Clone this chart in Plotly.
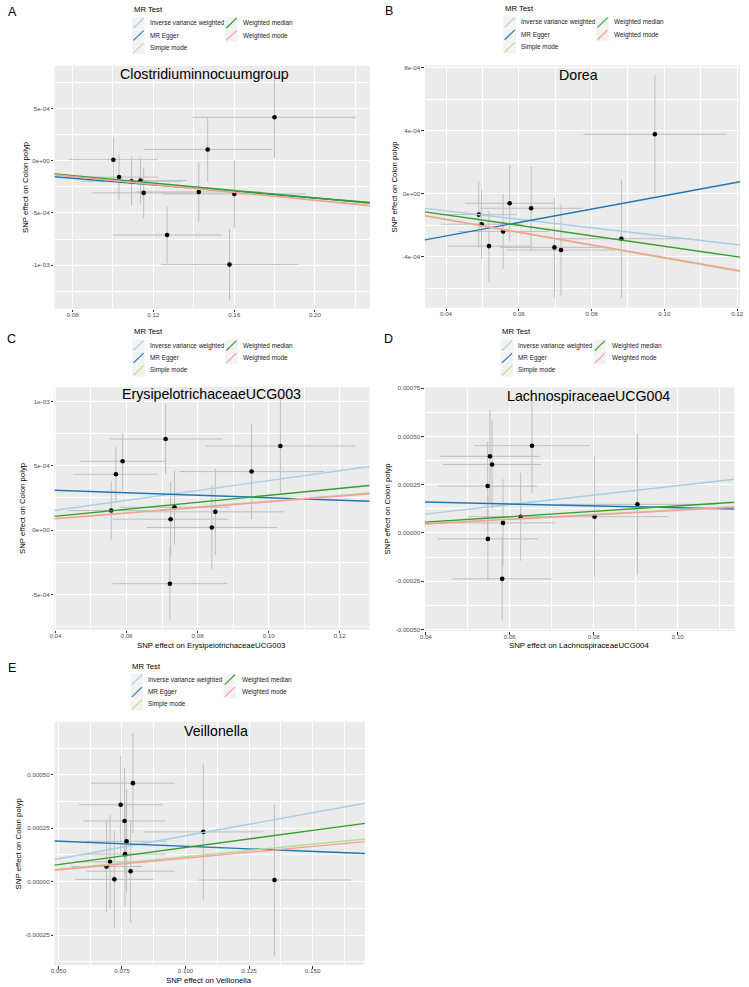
import plotly.graph_objects as go

W, H = 749, 987
FONT = "Liberation Sans, Arial, Helvetica, sans-serif"

# ---------------- data ----------------
methods = ["Inverse variance weighted", "MR Egger", "Simple mode", "Weighted median", "Weighted mode"]
method_colors = ["#a6cee3", "#1f78b4", "#b2df8a", "#33a02c", "#fb9a99"]

# Panel A
A_title = "Clostridiuminnocuumgroup"
A_bx = [0.1002, 0.1030, 0.1092, 0.1136, 0.1152, 0.1268, 0.1425, 0.1469, 0.1601, 0.1577, 0.1800]
A_by = [0.000010, -0.000157, -0.000196, -0.000190, -0.000308, -0.000712, -0.000299, 0.000108, -0.000318, -0.000995, 0.000416]
A_sex = [0.0220, 0.0196, 0.0250, 0.0230, 0.0253, 0.0270, 0.0310, 0.0318, 0.0355, 0.0340, 0.0404]
A_sey = [0.000215, 0.000219, 0.000234, 0.000222, 0.000243, 0.000270, 0.000283, 0.000310, 0.000326, 0.000340, 0.000394]
A_slope = [-1.80e-3, -1.58e-3, -1.88e-3, -1.78e-3, -1.90e-3]
A_icpt = [0.0, -4.1e-5, 0.0, 0.0, 0.0]
A_xtick = [0.08, 0.12, 0.16, 0.20]
A_xtext = ["0.08", "0.12", "0.16", "0.20"]
A_ytick = [5e-4, 0.0, -5e-4, -1e-3]
A_ytext = ["5e-04", "0e+00", "-5e-04", "-1e-03"]

# Panel B
B_title = "Dorea"
B_bx = [0.0490, 0.0498, 0.0518, 0.0557, 0.0575, 0.0634, 0.0698, 0.0716, 0.0882, 0.0974]
B_by = [-0.000131, -0.000192, -0.000331, -0.000238, -0.000059, -0.000091, -0.000339, -0.000356, -0.000284, 0.000379]
B_sex = [0.0106, 0.0112, 0.0114, 0.0125, 0.0123, 0.0141, 0.0149, 0.0149, 0.0190, 0.0196]
B_sey = [0.000214, 0.000221, 0.000226, 0.000240, 0.000242, 0.000265, 0.000316, 0.000288, 0.000374, 0.000373]
B_slope = [-2.68e-3, 4.26e-3, -4.08e-3, -3.32e-3, -4.03e-3]
B_icpt = [0.0, -4.37e-4, 0.0, 0.0, 0.0]
B_xtick = [0.04, 0.06, 0.08, 0.10, 0.12]
B_xtext = ["0.04", "0.06", "0.08", "0.10", "0.12"]
B_ytick = [8e-4, 4e-4, 0.0, -4e-4]
B_ytext = ["8e-04", "4e-04", "0e+00", "-4e-04"]

# Panel C
C_title = "ErysipelotrichaceaeUCG003"
C_xlab = "SNP effect on ErysipelotrichaceaeUCG003"
C_bx = [0.0557, 0.0570, 0.0589, 0.0710, 0.0735, 0.0724, 0.0722, 0.0840, 0.0850, 0.0952, 0.1033]
C_by = [0.000152, 0.000434, 0.000535, 0.000708, 0.000178, 0.000085, -0.000416, 0.000021, 0.000142, 0.000455, 0.000654]
C_sex = [0.0120, 0.0120, 0.0119, 0.0159, 0.0155, 0.0163, 0.0161, 0.0185, 0.0192, 0.0203, 0.0210]
C_sey = [0.000230, 0.000212, 0.000217, 0.000274, 0.000287, 0.000292, 0.000287, 0.000326, 0.000336, 0.000370, 0.000370]
C_slope = [3.85e-3, -9.6e-4, 2.25e-3, 2.70e-3, 2.20e-3]
C_icpt = [0.0, 3.48e-4, 0.0, 0.0, 0.0]
C_xtick = [0.04, 0.06, 0.08, 0.10, 0.12]
C_xtext = ["0.04", "0.06", "0.08", "0.10", "0.12"]
C_ytick = [1e-3, 5e-4, 0.0, -5e-4]
C_ytext = ["1e-03", "5e-04", "0e+00", "-5e-04"]

# Panel D
D_title = "LachnospiraceaeUCG004"
D_xlab = "SNP effect on LachnospiraceaeUCG004"
D_bx = [0.05475, 0.0553, 0.0558, 0.0653, 0.0548, 0.0584, 0.0582, 0.0626, 0.0802, 0.0904]
D_by = [0.000243, 0.000397, 0.000355, 0.000452, -0.000031, 0.000052, -0.000238, 0.000084, 0.000084, 0.000148]
D_sex = [0.0118, 0.0120, 0.0118, 0.0139, 0.0119, 0.0123, 0.0118, 0.0126, 0.0176, 0.0185]
D_sey = [0.000230, 0.000240, 0.000230, 0.000250, 0.000220, 0.000227, 0.000216, 0.000228, 0.000313, 0.000364]
D_slope = [2.45e-3, -4.9e-4, 1.20e-3, 1.40e-3, 1.17e-3]
D_icpt = [0.0, 1.795e-4, 0.0, 0.0, 0.0]
D_xtick = [0.04, 0.06, 0.08, 0.10]
D_xtext = ["0.04", "0.06", "0.08", "0.10"]
D_ytick = [7.5e-4, 5e-4, 2.5e-4, 0.0, -2.5e-4, -5e-4]
D_ytext = ["0.00075", "0.00050", "0.00025", "0.00000", "-0.00025", "-0.00050"]

# Panel E
E_title = "Veillonella"
E_xlab = "SNP effect on Veillonella"
E_bx = [0.0793, 0.0745, 0.0760, 0.0768, 0.0762, 0.0703, 0.0689, 0.0784, 0.0720, 0.1070, 0.1350]
E_by = [0.000461, 0.000360, 0.000284, 0.000189, 0.000129, 0.000093, 0.000071, 0.000049, 0.000011, 0.000233, 0.000008]
E_sex = [0.0165, 0.0164, 0.0162, 0.0158, 0.0160, 0.0140, 0.0140, 0.0174, 0.0154, 0.0236, 0.0300]
E_sey = [0.000233, 0.000228, 0.000247, 0.000240, 0.000240, 0.000220, 0.000213, 0.000240, 0.000227, 0.000320, 0.000353]
E_slope = [2.15e-3, -4.83e-4, 1.17e-3, 1.60e-3, 1.10e-3]
E_icpt = [0.0, 2.14e-4, 0.0, 0.0, 0.0]
E_xtick = [0.05, 0.075, 0.10, 0.125, 0.15]
E_xtext = ["0.050", "0.075", "0.100", "0.125", "0.150"]
E_ytick = [5e-4, 2.5e-4, 0.0, -2.5e-4]
E_ytext = ["0.00050", "0.00025", "0.00000", "-0.00025"]

ylab = "SNP effect on Colon polyp"
legend_title = "MR Test"

panels = [
    dict(letter="A", title=A_title, xlab=None, bx=A_bx, by=A_by, sex=A_sex, sey=A_sey,
         slope=A_slope, icpt=A_icpt, xt=A_xtick, xtt=A_xtext, yt=A_ytick, ytt=A_ytext),
    dict(letter="B", title=B_title, xlab=None, bx=B_bx, by=B_by, sex=B_sex, sey=B_sey,
         slope=B_slope, icpt=B_icpt, xt=B_xtick, xtt=B_xtext, yt=B_ytick, ytt=B_ytext),
    dict(letter="C", title=C_title, xlab=C_xlab, bx=C_bx, by=C_by, sex=C_sex, sey=C_sey,
         slope=C_slope, icpt=C_icpt, xt=C_xtick, xtt=C_xtext, yt=C_ytick, ytt=C_ytext),
    dict(letter="D", title=D_title, xlab=D_xlab, bx=D_bx, by=D_by, sex=D_sex, sey=D_sey,
         slope=D_slope, icpt=D_icpt, xt=D_xtick, xtt=D_xtext, yt=D_ytick, ytt=D_ytext),
    dict(letter="E", title=E_title, xlab=E_xlab, bx=E_bx, by=E_by, sex=E_sex, sey=E_sey,
         slope=E_slope, icpt=E_icpt, xt=E_xtick, xtt=E_xtext, yt=E_ytick, ytt=E_ytext),
]

# ---------------- layout geometry (pixels) ----------------
geom = [
    dict(px=(50, 369.3), py=(63, 307), xr=(0.071, 0.2272), yr=(-1.418e-3, 9.1e-4),
         letter=(7.5, 9), title=(202, 71), ylab=(21, 185), xlab=None, leg=(128.3, 6.5)),
    dict(px=(425, 744), py=(62.7, 306), xr=(0.0342, 0.1208), yr=(-7.22e-4, 8.15e-4),
         letter=(389, 8), title=(580, 72), ylab=(394, 184), xlab=None, leg=(504, 5.8)),
    dict(px=(50, 369), py=(385.7, 629.3), xr=(0.0397, 0.1284), yr=(-7.74e-4, 1.111e-3),
         letter=(7, 337), title=(208.6, 392.5), ylab=(18.3, 507), xlab=(209, 645.5), leg=(128.3, 330.3)),
    dict(px=(425, 738.3), py=(386, 630.7), xr=(0.0398, 0.1135), yr=(-5.09e-4, 7.54e-4),
         letter=(388, 337.5), title=(591, 394.5), ylab=(387.3, 508), xlab=(581.3, 645.5), leg=(501.3, 330.3)),
    dict(px=(50, 364.3), py=(721.7, 966), xr=(0.0484, 0.1706), yr=(-3.9e-4, 7.48e-4),
         letter=(7, 668), title=(213.7, 730.5), ylab=(14, 844), xlab=(206.7, 981), leg=(126.7, 665.7)),
]


def fx(x):
    return x / W


def fy(y):
    return 1 - y / H


def minors(ticks):
    t = sorted(ticks)
    step = t[1] - t[0]
    out = [t[0] - step / 2]
    for a, b in zip(t[:-1], t[1:]):
        out.append((a + b) / 2)
    out.append(t[-1] + step / 2)
    return out


fig = go.Figure()
annotations = []
shapes = []

for i, (p, g) in enumerate(zip(panels, geom)):
    n = i + 1
    xa = "x" if n == 1 else f"x{n}"
    ya = "y" if n == 1 else f"y{n}"

    fig.add_trace(go.Scatter(
        x=p["bx"], y=p["by"], mode="markers", xaxis=xa, yaxis=ya,
        marker=dict(color="black", size=4.6),
        error_x=dict(type="data", array=p["sex"], visible=True, color="#bebebe", thickness=1, width=0),
        error_y=dict(type="data", array=p["sey"], visible=True, color="#bebebe", thickness=1, width=0),
        showlegend=False, hoverinfo="skip"))

    x0, x1 = g["xr"]
    for m, col, b, a in zip(methods, method_colors, p["slope"], p["icpt"]):
        fig.add_trace(go.Scatter(
            x=[x0, x1], y=[a + b * x0, a + b * x1], mode="lines", xaxis=xa, yaxis=ya,
            line=dict(color=col, width=1.4), name=m, showlegend=False, hoverinfo="skip"))

    axis_common = dict(showline=False, zeroline=False, showgrid=True, gridcolor="white", gridwidth=1.1,
                       ticks="outside", ticklen=2.5, tickwidth=0.8, tickcolor="#333333",
                       tickfont=dict(size=6.2, color="#4d4d4d", family=FONT), tickmode="array")
    fig.update_layout(**{
        ("xaxis" if n == 1 else f"xaxis{n}"): dict(
            axis_common, domain=[fx(g["px"][0]), fx(g["px"][1])], range=list(g["xr"]),
            anchor=ya, tickvals=p["xt"], ticktext=p["xtt"], ticklabelstandoff=-3,
            minor=dict(tickmode="array", tickvals=minors(p["xt"]), showgrid=True,
                       gridcolor="white", gridwidth=0.5, ticks="")),
        ("yaxis" if n == 1 else f"yaxis{n}"): dict(
            axis_common, domain=[fy(g["py"][1]), fy(g["py"][0])], range=list(g["yr"]),
            anchor=xa, tickvals=p["yt"], ticktext=p["ytt"],
            minor=dict(tickmode="array", tickvals=minors(p["yt"]), showgrid=True,
                       gridcolor="white", gridwidth=0.5, ticks="")),
    })

    # panel letter
    annotations.append(dict(x=fx(g["letter"][0]), y=fy(g["letter"][1]), xref="paper", yref="paper",
                            text=p["letter"], showarrow=False, xanchor="center", yanchor="middle",
                            font=dict(size=12.5, color="black", family=FONT)))
    # panel title
    annotations.append(dict(x=fx(g["title"][0]), y=fy(g["title"][1]), xref="paper", yref="paper",
                            text=p["title"], showarrow=False, xanchor="center", yanchor="middle",
                            font=dict(size=14.2, color="black", family=FONT)))
    # y-axis title
    annotations.append(dict(x=fx(g["ylab"][0]), y=fy(g["ylab"][1]), xref="paper", yref="paper",
                            text=ylab, showarrow=False, xanchor="center", yanchor="middle", textangle=-90,
                            font=dict(size=7.8, color="black", family=FONT)))
    # x-axis title
    if p["xlab"] and g["xlab"]:
        annotations.append(dict(x=fx(g["xlab"][0]), y=fy(g["xlab"][1]), xref="paper", yref="paper",
                                text=p["xlab"], showarrow=False, xanchor="center", yanchor="middle",
                                font=dict(size=7.8, color="black", family=FONT)))

    # legend (manual, ggplot-style keys)
    tx, ty = g["leg"]
    annotations.append(dict(x=fx(tx), y=fy(ty), xref="paper", yref="paper", text=legend_title,
                            showarrow=False, xanchor="left", yanchor="middle",
                            font=dict(size=7.7, color="black", family=FONT)))
    row_off = [13.7, 26.2, 38.6]
    positions = [(0, 0), (0, 1), (0, 2), (1, 0), (1, 1)]
    for (col_i, row_i), m, c in zip(positions, methods, method_colors):
        cy = ty + row_off[row_i]
        kx0 = tx + (0.5 if col_i == 0 else 94.5)
        kx1 = kx0 + 12.7
        ky0, ky1 = cy - 6.1, cy + 6.1
        shapes.append(dict(type="rect", xref="paper", yref="paper", x0=fx(kx0), x1=fx(kx1),
                           y0=fy(ky1), y1=fy(ky0), fillcolor="#f2f2f2", line=dict(width=0), layer="above"))
        shapes.append(dict(type="line", xref="paper", yref="paper", x0=fx(kx0 + 1.2), x1=fx(kx1 - 1.2),
                           y0=fy(ky1 - 1.2), y1=fy(ky0 + 1.2), line=dict(color=c, width=1.1), layer="above"))
        tx_text = tx + (16.3 if col_i == 0 else 110.8)
        annotations.append(dict(x=fx(tx_text), y=fy(cy), xref="paper", yref="paper", text=m,
                                showarrow=False, xanchor="left", yanchor="middle",
                                font=dict(size=6.4, color="#1a1a1a", family=FONT)))

fig.update_layout(
    width=W, height=H, margin=dict(l=0, r=0, t=0, b=0),
    paper_bgcolor="white", plot_bgcolor="#ebebeb",
    font=dict(family=FONT), showlegend=False,
    annotations=annotations, shapes=shapes,
)

fig.write_html("out.html")
